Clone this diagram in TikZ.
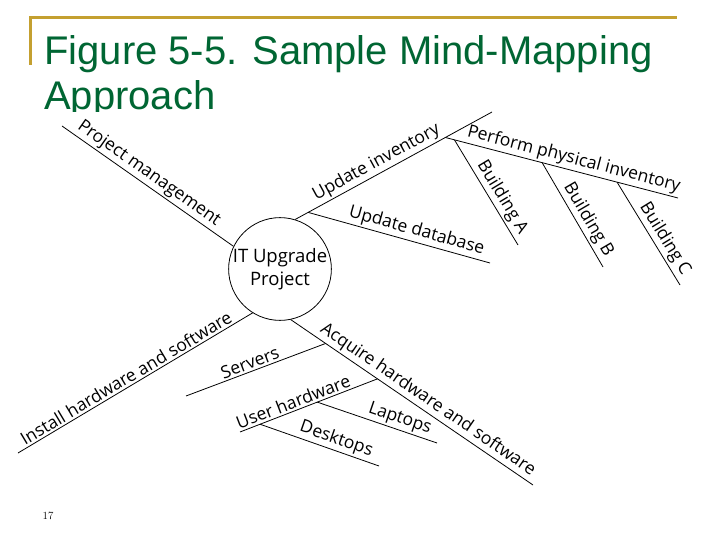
\documentclass[tikz,border=0pt]{standalone}
\usepackage{fontspec}
\newfontfamily\titlefont{Liberation Sans}
\newfontfamily\mapfont{Open Sans}
\usetikzlibrary{positioning}
\definecolor{slidegreen}{RGB}{0,102,51}
\definecolor{slidegold}{RGB}{196,160,48}

\begin{document}
\begin{tikzpicture}[x=1pt,y=-1pt,
  title/.style={font=\titlefont\fontsize{40}{44}\selectfont, text=slidegreen,
                anchor=base west, inner sep=0pt},
  hub/.style={circle, draw, line width=0.8pt, minimum size=96pt, align=center,
              inner sep=0pt, font=\mapfont\fontsize{18.5}{23}\selectfont},
  branch/.style={line width=0.8pt},
  lbl/.style={sloped, above, inner sep=2pt, font=\mapfont\fontsize{17.5}{20}\selectfont}
]
  \useasboundingbox[fill=white] (0,0) rectangle (720,540);

  % slide frame and title
  \draw[slidegold, line width=3pt] (30,65) -- (30,18) -- (677,18);
  \begin{scope}
    \clip (0,0) rectangle (720,111.5);
    \node[title] (ttla) at (44,65) {Figure 5-5. Sample Mind-Mapping};
    \node[title] (ttlb) at (44,110) {Approach};
  \end{scope}

  % hub
  \node[hub] (ctr) at (280,269) {IT Upgrade\\Project};

  % free ends of the branches
  \coordinate (pmEnd)   at (62,126);
  \coordinate (uiEnd)   at (492,112);
  \coordinate (udbEnd)  at (490,263);
  \coordinate (ppiEnd)  at (678,198);
  \coordinate (bldAEnd) at (518,245);
  \coordinate (bldBEnd) at (603,267);
  \coordinate (bldCEnd) at (680,285);
  \coordinate (ihEnd)   at (18,453);
  \coordinate (ahEnd)   at (533,485);
  \coordinate (srvEnd)  at (186,396);
  \coordinate (uhEnd)   at (240,432);
  \coordinate (dskEnd)  at (379,466);
  \coordinate (lapEnd)  at (437,443);

  % upper branches
  \draw[branch] (pmEnd) -- node[lbl,pos=0.47]{Project management} (ctr.154);
  \draw[branch] (ctr.73) -- coordinate[pos=0.066] (udbStart)
    coordinate[pos=0.763] (ppiStart) node[lbl,pos=0.44]{Update inventory} (uiEnd);
  \draw[branch] (udbStart) -- node[lbl,pos=0.58]{Update database} (udbEnd);
  \draw[branch] (ppiStart) -- coordinate[pos=0.039] (bldA) coordinate[pos=0.416] (bldB)
    coordinate[pos=0.738] (bldC) node[lbl,pos=0.54]{Perform physical inventory} (ppiEnd);
  \draw[branch] (bldA) -- node[lbl,pos=0.6]{Building A} (bldAEnd);
  \draw[branch] (bldB) -- node[lbl,pos=0.6]{Building B} (bldBEnd);
  \draw[branch] (bldC) -- node[lbl,pos=0.61]{Building C} (bldCEnd);

  % lower branches
  \draw[branch] (ihEnd) -- node[lbl,pos=0.48]{Install hardware and software} (ctr.238);
  \draw[branch] (ctr.282) -- coordinate[pos=0.144] (srvStart) coordinate[pos=0.358] (uhStart)
    node[lbl,pos=0.54]{Acquire hardware and software} (ahEnd);
  \draw[branch] (srvEnd) -- node[lbl,pos=0.48]{Servers} (srvStart);
  \draw[branch] (uhEnd) -- coordinate[pos=0.146] (dskStart) coordinate[pos=0.562] (lapStart)
    node[lbl,pos=0.41]{User hardware} (uhStart);
  \draw[branch] (dskStart) -- node[lbl,pos=0.61]{Desktops} (dskEnd);
  \draw[branch] (lapStart) -- node[lbl,pos=0.66]{Laptops} (lapEnd);

  % page number
  \node[font=\fontsize{11}{13}\selectfont] (pgno) at (48,516) {17};
\end{tikzpicture}
\end{document}
